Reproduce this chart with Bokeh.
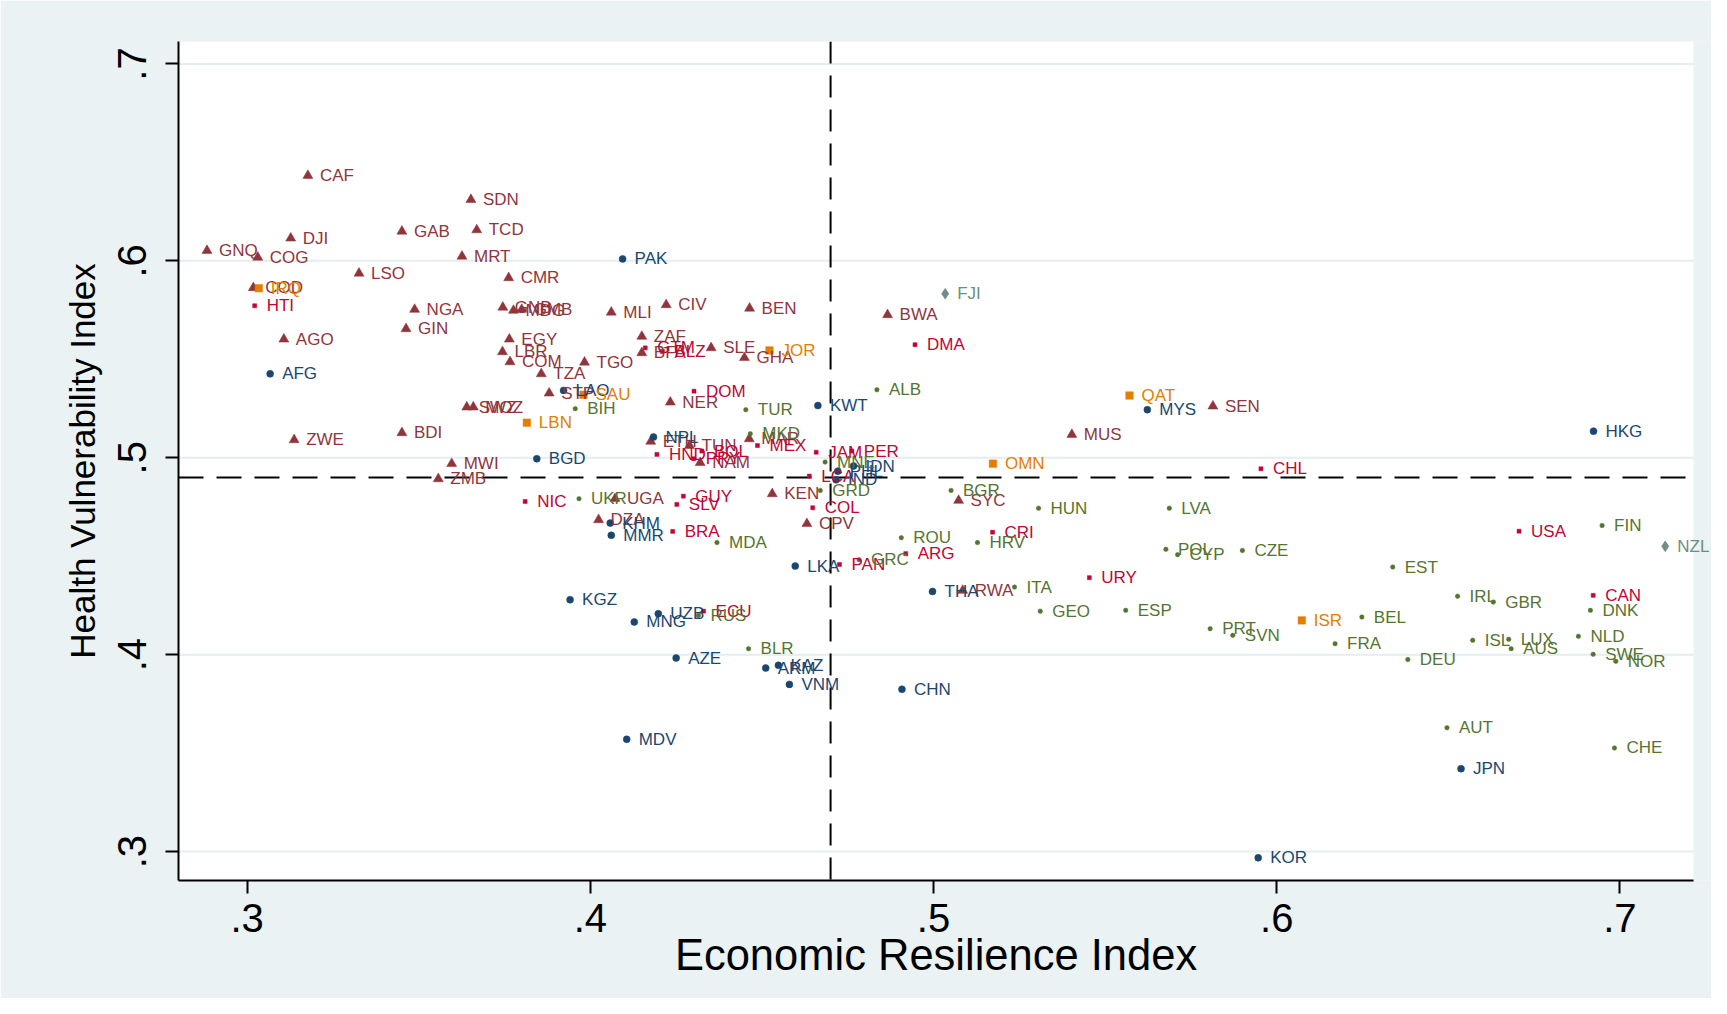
from bokeh.plotting import figure
from bokeh.models import (ColumnDataSource, Span, FixedTicker, CustomJSTickFormatter, LabelSet,
                          BoxAnnotation, Title)
from bokeh.core.properties import value
from bokeh.embed import file_html
from bokeh.resources import INLINE

# ---------------- data ----------------
africa_names = ["CAF","SDN","GAB","TCD","DJI","GNQ","COG","MRT","LSO","CMR","COD","NGA","GNB","MDG","GMB",
                "GIN","AGO","EGY","LBR","COM","TZA","STP","SWZ","MOZ","BDI","ZWE","MWI","ZMB","MLI","CIV",
                "BEN","BWA","ZAF","BFA","SLE","GHA","TGO","NER","ETH","TUN","MAR","NAM","KEN","CPV","UGA",
                "DZA","SYC","RWA","MUS","SEN"]
africa_x = [0.3177,0.3652,0.3451,0.3669,0.3127,0.2883,0.3031,0.3626,0.3326,0.3762,0.3018,0.3488,0.3745,0.3776,0.3800,
            0.3463,0.3107,0.3764,0.3744,0.3766,0.3857,0.3880,0.3640,0.3659,0.3451,0.3137,0.3596,0.3557,0.4061,0.4221,
            0.4464,0.4866,0.4150,0.4150,0.4352,0.4449,0.3983,0.4233,0.4176,0.4289,0.4463,0.4320,0.4530,0.4631,0.4072,
            0.4024,0.5073,0.5085,0.5403,0.5814]
africa_y = [0.6433,0.6311,0.6150,0.6157,0.6115,0.6052,0.6018,0.6023,0.5937,0.5914,0.5863,0.5753,0.5764,0.5748,0.5753,
            0.5655,0.5602,0.5602,0.5538,0.5487,0.5426,0.5328,0.5257,0.5257,0.5127,0.5091,0.4970,0.4893,0.5739,0.5777,
            0.5759,0.5726,0.5616,0.5533,0.5558,0.5508,0.5485,0.5282,0.5083,0.5062,0.5096,0.4975,0.4817,0.4665,0.4792,
            0.4685,0.4783,0.4326,0.5118,0.5262]

asia_names = ["AFG","PAK","LAO","BGD","NPL","KWT","IDN","PHL","IND","KHM","MMR","LKA","THA","KGZ","UZB","MNG",
              "AZE","ARM","KAZ","VNM","CHN","MDV","MYS","HKG","JPN","KOR"]
asia_x = [0.3067,0.4094,0.3922,0.3844,0.4184,0.4663,0.4767,0.4721,0.4716,0.4058,0.4061,0.4597,0.4997,0.3941,0.4198,0.4128,
          0.4250,0.4511,0.4548,0.4580,0.4908,0.4106,0.5623,0.6923,0.6537,0.5946]
asia_y = [0.5426,0.6010,0.5342,0.4995,0.5105,0.5265,0.4958,0.4932,0.4888,0.4668,0.4606,0.4450,0.4321,0.4279,0.4208,0.4166,
          0.3983,0.3932,0.3946,0.3849,0.3824,0.3570,0.5244,0.5135,0.3421,0.2968]

europe_names = ["BIH","TUR","ALB","MKD","MNE","GRD","UKR","MDA","ROU","GRC","RUS","BLR","BGR","HUN","LVA","HRV",
                "POL","CYP","CZE","ITA","GEO","ESP","PRT","SVN","FRA","EST","IRL","GBR","DNK","BEL","ISL","LUX",
                "AUS","NLD","SWE","NOR","DEU","FIN","AUT","CHE"]
europe_x = [0.3956,0.4453,0.4835,0.4466,0.4684,0.4670,0.3967,0.4369,0.4906,0.4783,0.4315,0.4461,0.5051,0.5306,0.5687,0.5128,
            0.5677,0.5711,0.5900,0.5236,0.5311,0.5560,0.5806,0.5872,0.6170,0.6338,0.6527,0.6631,0.6914,0.6248,0.6571,0.6676,
            0.6683,0.6879,0.6922,0.6988,0.6382,0.6948,0.6496,0.6984]
europe_y = [0.5249,0.5244,0.5345,0.5122,0.4978,0.4834,0.4792,0.4569,0.4594,0.4482,0.4199,0.4030,0.4834,0.4744,0.4744,0.4569,
            0.4535,0.4508,0.4529,0.4343,0.4221,0.4225,0.4132,0.4098,0.4056,0.4445,0.4297,0.4267,0.4225,0.4191,0.4073,0.4078,
            0.4030,0.4093,0.4002,0.3966,0.3975,0.4656,0.3629,0.3526]

america_names = ["HTI","NIC","GTM","BLZ","DOM","DMA","MEX","HND","BOL","PRY","JAM","PER","LCA","COL","GUY","SLV",
                 "BRA","ARG","PAN","ECU","CHL","CRI","URY","USA","CAN"]
america_x = [0.3022,0.3810,0.4160,0.4210,0.4302,0.4946,0.4487,0.4194,0.4325,0.4301,0.4658,0.4762,0.4638,0.4648,0.4271,0.4252,
             0.4240,0.4919,0.4726,0.4330,0.5954,0.5172,0.5454,0.6706,0.6922]
america_y = [0.5772,0.4778,0.5558,0.5540,0.5338,0.5574,0.5062,0.5017,0.5034,0.4995,0.5028,0.5034,0.4907,0.4746,0.4805,0.4763,
             0.4626,0.4513,0.4458,0.4221,0.4944,0.4622,0.4391,0.4627,0.4301]

mideast_names = ["IRQ","LBN","SAU","JOR","OMN","QAT","ISR"]
mideast_x = [0.3034,0.3815,0.3980,0.4522,0.5173,0.5571,0.6073]
mideast_y = [0.5861,0.5178,0.5320,0.5545,0.4970,0.5316,0.4174]

oceania_names = ["FJI","NZL"]
oceania_x = [0.5034,0.7132]
oceania_y = [0.5833,0.4550]

x_ticks = [0.3, 0.4, 0.5, 0.6, 0.7]
x_tick_labels = [".3", ".4", ".5", ".6", ".7"]
y_ticks = [0.3, 0.4, 0.5, 0.6, 0.7]
y_tick_labels = [".3", ".4", ".5", ".6", ".7"]
x_cut = 0.47
y_cut = 0.49
x_title = "Economic Resilience Index"
y_title = "Health Vulnerability Index"

# axis extents of the plot region
x_lo, x_hi = 0.28, 0.72143
y_lo, y_hi = 0.2853, 0.7114
x_view_end = 0.72668   # a bit of room on the right so outer labels are not clipped

# ---------------- figure ----------------
BG = "#EAF2F3"
FONT = "Liberation Sans"

p = figure(width=1711, height=998, output_backend="svg", toolbar_location=None,
           x_range=(x_lo, x_view_end), y_range=(y_lo, y_hi),
           min_border_left=178, min_border_right=0, min_border_top=41, min_border_bottom=118)
p.border_fill_color = BG
p.background_fill_color = BG
p.outline_line_color = None
p.xgrid.visible = False
p.ygrid.visible = False

# white plot region
p.add_layout(BoxAnnotation(left=x_lo, right=x_hi, fill_color="white", fill_alpha=1.0,
                           line_color=None, level="image"))

# horizontal grid lines (bounded to the plot region)
p.segment(x0=[x_lo] * len(y_ticks), x1=[x_hi] * len(y_ticks), y0=y_ticks, y1=y_ticks,
          line_color="#E4EDEF", line_width=2)

def style_axis(ax, ticks, labels):
    ax.ticker = FixedTicker(ticks=ticks)
    ax.formatter = CustomJSTickFormatter(args=dict(t=ticks, l=labels), code="""
        for (let i = 0; i < t.length; i++) { if (Math.abs(t[i] - tick) < 1e-9) return l[i]; }
        return '';""")
    ax.axis_line_color = "black"
    ax.axis_line_width = 2
    ax.major_tick_line_color = "black"
    ax.major_tick_line_width = 2
    ax.major_tick_out = 13
    ax.major_tick_in = 0
    ax.minor_tick_line_color = None
    ax.major_label_text_font = FONT
    ax.major_label_text_color = "black"
    ax.axis_label_text_font = FONT
    ax.axis_label_text_font_style = "normal"
    ax.axis_label_text_color = "black"

style_axis(p.xaxis[0], x_ticks, x_tick_labels)
style_axis(p.yaxis[0], y_ticks, y_tick_labels)
p.xaxis.bounds = (x_lo, x_hi)
p.yaxis.axis_label = y_title
p.xaxis.major_label_text_font_size = "40px"
p.yaxis.major_label_text_font_size = "40px"
p.yaxis.axis_label_text_font_size = "35px"
p.yaxis.major_label_orientation = "vertical"
p.xaxis.major_label_standoff = 10
p.yaxis.major_label_standoff = 19
p.yaxis.axis_label_standoff = 14

# x-axis title, centred on the white plot region (not on the widened frame)
TITLE_PX = 43.5
title_width = 12.004 * TITLE_PX          # Arial/Liberation Sans advance width of the text
frame_px = 1711 - 178
region_px = frame_px * (x_hi - x_lo) / (x_view_end - x_lo)
p.add_layout(Title(text=x_title, align="left", offset=region_px / 2 - title_width / 2,
                   vertical_align="top", standoff=-7, text_font=FONT, text_font_style="normal",
                   text_font_size=f"{TITLE_PX}px", text_color="black"), "below")

# reference lines
p.add_layout(Span(location=x_cut, dimension="height", line_color="black", line_width=2, line_dash="22 12"))
p.line(x=[x_lo, x_hi], y=[y_cut, y_cut], line_color="black", line_width=2, line_dash="25 13")

groups = [
    (africa_names, africa_x, africa_y, "#90353B", "triangle", 10),
    (america_names, america_x, america_y, "#C10534", "square", 4),
    (asia_names, asia_x, asia_y, "#1A476F", "circle", 7),
    (mideast_names, mideast_x, mideast_y, "#E37E00", "square", 7.5),
    (europe_names, europe_x, europe_y, "#55752F", "circle", 4.5),
    (oceania_names, oceania_x, oceania_y, "#6E8E84", "diamond", 11),
]

for names, xs, ys, color, marker, size in groups:
    src = ColumnDataSource(dict(x=xs, y=ys, name=names))
    p.scatter("x", "y", source=src, marker=marker, size=size, fill_color=color, line_color=color, line_width=0.5)
    p.add_layout(LabelSet(x="x", y="y", text="name", source=src, x_offset=12, text_baseline="middle",
                          text_align="left", text_color=color, text_font=value(FONT),
                          text_font_size=value("17px")))

open("out.html", "w").write(file_html(p, INLINE))
